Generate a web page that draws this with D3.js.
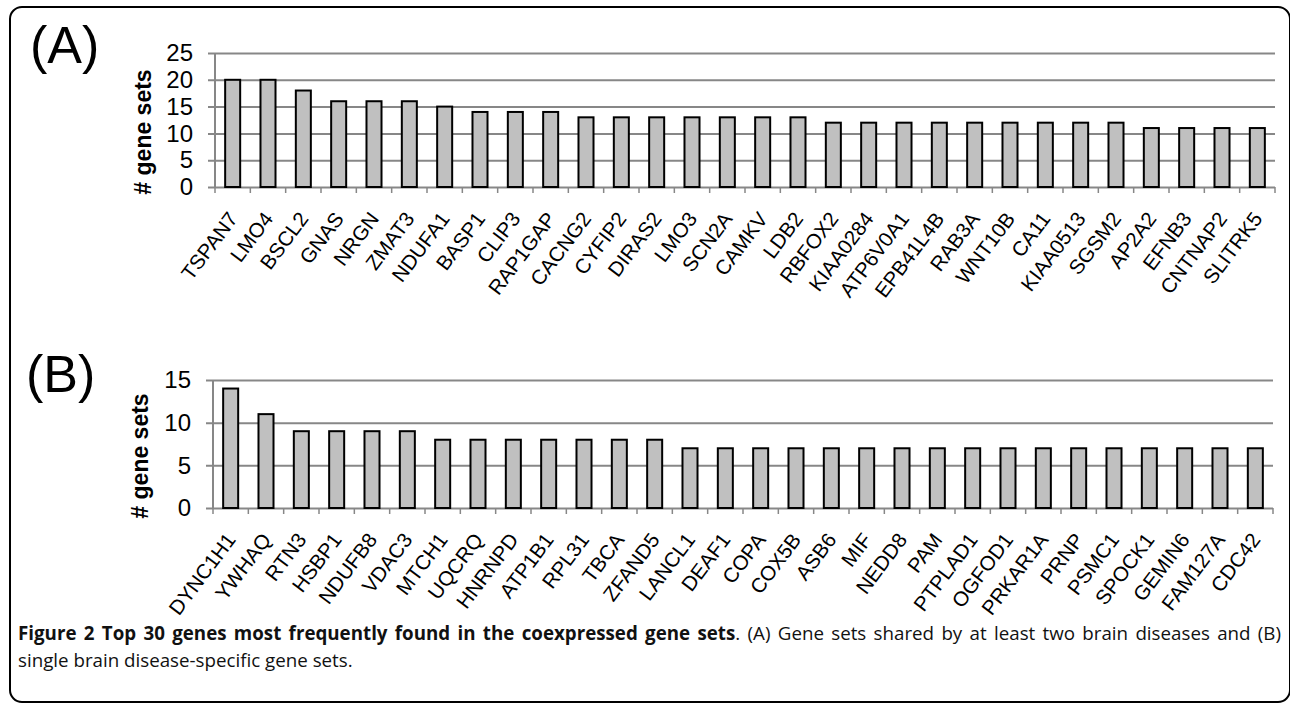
<!DOCTYPE html>
<html>
<head>
<meta charset="utf-8">
<script src="https://cdn.jsdelivr.net/npm/d3@7"></script>
<style>
  body { margin: 0; background: #fff; }
  svg { display: block; }
</style>
</head>
<body>
<script>
// panel A: shared by at least two brain diseases
const genesA = ["TSPAN7", "LMO4", "BSCL2", "GNAS", "NRGN", "ZMAT3", "NDUFA1", "BASP1",
  "CLIP3", "RAP1GAP", "CACNG2", "CYFIP2", "DIRAS2", "LMO3", "SCN2A", "CAMKV", "LDB2",
  "RBFOX2", "KIAA0284", "ATP6V0A1", "EPB41L4B", "RAB3A", "WNT10B", "CA11", "KIAA0513",
  "SGSM2", "AP2A2", "EFNB3", "CNTNAP2", "SLITRK5"];
const countsA = [20, 20, 18, 16, 16, 16, 15, 14, 14, 14, 13, 13, 13, 13, 13, 13, 13,
  12, 12, 12, 12, 12, 12, 12, 12, 12, 11, 11, 11, 11];
const ticksA = [0, 5, 10, 15, 20, 25];

// panel B: single brain disease-specific
const genesB = ["DYNC1H1", "YWHAQ", "RTN3", "HSBP1", "NDUFB8", "VDAC3", "MTCH1", "UQCRQ",
  "HNRNPD", "ATP1B1", "RPL31", "TBCA", "ZFAND5", "LANCL1", "DEAF1", "COPA", "COX5B",
  "ASB6", "MIF", "NEDD8", "PAM", "PTPLAD1", "OGFOD1", "PRKAR1A", "PRNP", "PSMC1",
  "SPOCK1", "GEMIN6", "FAM127A", "CDC42"];
const countsB = [14, 11, 9, 9, 9, 9, 8, 8, 8, 8, 8, 8, 8, 7, 7, 7, 7, 7, 7, 7, 7, 7,
  7, 7, 7, 7, 7, 7, 7, 7];
const ticksB = [0, 5, 10, 15];

const yTitle = "# gene sets";
const captionBold = "Figure 2 Top 30 genes most frequently found in the coexpressed gene sets";
const captionRest = ". (A) Gene sets shared by at least two brain diseases and (B)";
const captionLine2 = "single brain disease-specific gene sets.";

const width = 1290;
const height = 704;
const chartFont = "Arial, 'Liberation Sans', sans-serif";
const gridColor = "#878787";

const svg = d3
  .select("body")
  .append("svg")
  .attr("width", width)
  .attr("height", height);

// outer frame (right edge sits on the page border)
svg
  .append("rect")
  .attr("x", 10)
  .attr("y", 7)
  .attr("width", 1280)
  .attr("height", 695)
  .attr("rx", 12)
  .attr("fill", "none")
  .attr("stroke", "#000")
  .attr("stroke-width", 2);

function drawPanel(opts) {
  const { genes, counts, ticks, left, right, top, bottom, letter, letterX, letterY, titleX } = opts;
  const g = svg.append("g");

  const x = d3
    .scaleBand()
    .domain(genes)
    .range([left, right])
    .paddingInner(0.575)
    .paddingOuter(0.2875);

  const y = d3
    .scaleLinear()
    .domain([0, d3.max(ticks)])
    .range([bottom, top]);

  // gridlines + y labels
  const yAxis = d3
    .axisLeft(y)
    .tickValues(ticks)
    .tickSize(-(right - left))
    .tickSizeOuter(0)
    .tickPadding(22);

  const yg = g
    .append("g")
    .attr("transform", `translate(${left}, 0)`)
    .call(yAxis);
  yg.select(".domain").remove();
  yg.selectAll(".tick line")
    .attr("x1", -7)
    .attr("stroke", gridColor)
    .attr("stroke-width", 2);
  yg.selectAll(".tick text")
    .style("font-family", chartFont)
    .style("font-size", "24px")
    .attr("fill", "#000");

  // vertical axis line
  g.append("line")
    .attr("x1", left)
    .attr("x2", left)
    .attr("y1", top)
    .attr("y2", bottom)
    .attr("stroke", gridColor)
    .attr("stroke-width", 2);

  // category tick marks at band edges
  const edges = genes.map((d) => x(d) - (x.step() - x.bandwidth()) / 2);
  edges.push(right);
  g.selectAll(".edge")
    .data(edges)
    .enter()
    .append("line")
    .attr("x1", (d) => d)
    .attr("x2", (d) => d)
    .attr("y1", bottom)
    .attr("y2", bottom + 6)
    .attr("stroke", gridColor)
    .attr("stroke-width", 1.5);

  // bars
  g.selectAll(".bar")
    .data(genes)
    .enter()
    .append("rect")
    .attr("class", "bar")
    .attr("x", (d) => x(d))
    .attr("y", (d, i) => y(counts[i]))
    .attr("width", x.bandwidth())
    .attr("height", (d, i) => bottom - y(counts[i]))
    .attr("fill", "#c0c0c0")
    .attr("stroke", "#000")
    .attr("stroke-width", 2);

  // rotated gene labels
  const xAxis = d3.axisBottom(x).tickSize(0).tickSizeOuter(0);
  const xg = g
    .append("g")
    .attr("transform", `translate(0, ${bottom})`)
    .call(xAxis);
  xg.select(".domain").remove();
  xg.selectAll(".tick text")
    .attr("y", null)
    .attr("dy", null)
    .attr("transform", "translate(6, 32) rotate(-53)")
    .attr("text-anchor", "end")
    .style("font-family", chartFont)
    .style("font-size", "20.5px")
    .attr("fill", "#000");

  // y title
  g.append("text")
    .attr("transform", `translate(${titleX}, ${(top + bottom) / 2 + 12}) rotate(-90)`)
    .attr("text-anchor", "middle")
    .style("font-family", chartFont)
    .style("font-size", "23px")
    .style("font-weight", "bold")
    .text(yTitle);

  // panel letter
  g.append("text")
    .attr("x", letterX)
    .attr("y", letterY)
    .style("font-family", chartFont)
    .style("font-size", "52px")
    .text(letter);
}

drawPanel({
  genes: genesA, counts: countsA, ticks: ticksA,
  left: 215, right: 1275, top: 53, bottom: 187,
  letter: "(A)", letterX: 30, letterY: 63, titleX: 151
});

drawPanel({
  genes: genesB, counts: countsB, ticks: ticksB,
  left: 213, right: 1273, top: 380, bottom: 508,
  letter: "(B)", letterX: 26, letterY: 392, titleX: 148
});

// caption: first line fills the frame width, a little extra word spacing
const capFont = "'Open Sans', 'Noto Sans', sans-serif";
const capLeft = 18;
const capRight = 1281;
const naturalTarget = 1205;

const line1 = svg
  .append("text")
  .attr("x", capLeft)
  .attr("y", 640)
  .style("font-family", capFont)
  .style("font-size", "16px")
  .attr("fill", "#111");
line1.append("tspan").style("font-weight", "bold").text(captionBold);
line1.append("tspan").text(captionRest);

const capSize = (16 * naturalTarget) / line1.node().getComputedTextLength();
line1.style("font-size", capSize + "px");

const natural = line1.node().getComputedTextLength();
const spaces = (captionBold + captionRest).split(" ").length - 1;
line1.style("word-spacing", Math.max(0, (capRight - capLeft - natural) / spaces) + "px");

svg
  .append("text")
  .attr("x", capLeft)
  .attr("y", 667)
  .style("font-family", capFont)
  .style("font-size", capSize + "px")
  .attr("fill", "#111")
  .text(captionLine2);
</script>
</body>
</html>
